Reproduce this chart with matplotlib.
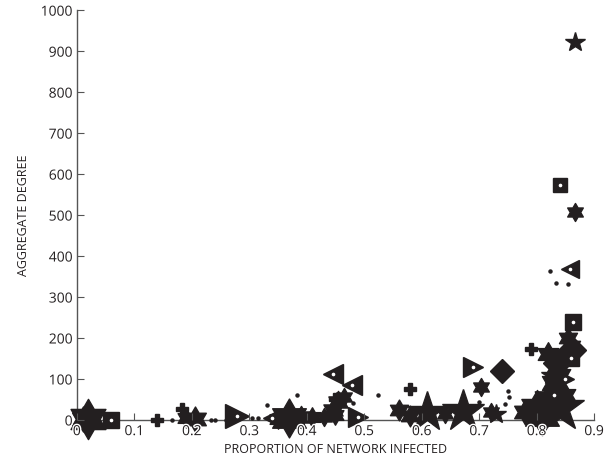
import numpy as np
import matplotlib.pyplot as plt
import matplotlib.patheffects as pe
from matplotlib.path import Path

plt.rcParams['font.family'] = ['Open Sans', 'DejaVu Sans']

# hexagram markers: x, y, size(pt)
hex_x = [0.02, 0.01, 0.205, 0.19, 0.37, 0.39, 0.41, 0.43, 0.35, 0.445, 0.455, 0.465, 0.45,
         0.56, 0.58, 0.64, 0.703, 0.72, 0.80, 0.81, 0.82, 0.83, 0.82, 0.835, 0.85, 0.855,
         0.86, 0.84, 0.85, 0.78, 0.867]
hex_y = [2, 3, 3, 5, 5, 8, 6, 8, 3, 25, 45, 55, 12,
         25, 10, 15, 80, 20, 30, 10, 50, 90, 160, 130, 150, 200,
         180, 110, 60, 20, 507]
hex_s = [29, 18, 18, 14, 28, 16, 14, 13, 14, 16, 16, 13, 14,
         15, 15, 13, 13, 13, 26, 28, 22, 20, 17, 18, 17, 15,
         15, 17, 17, 18, 13]

# pentagrams
pent_x = [0.61, 0.672, 0.84, 0.73, 0.867, 0.825]
pent_y = [20, 22, 30, 15, 922, 110]
pent_s = [30, 32, 36, 15, 15, 15]

# filled plus
plus_x = [0.14, 0.183, 0.58, 0.79, 0.45]
plus_y = [1, 27, 75, 172, 50]
plus_s = [9, 9, 9, 9, 9]

# squares
sq_x = [0.06, 0.84, 0.863, 0.86, 0.83]
sq_y = [0, 573, 238, 150, 60]
sq_s = [11, 10, 11, 11, 11]

# right triangles
rt_x = [0.278, 0.49, 0.69, 0.85]
rt_y = [10, 7, 130, 100]
rt_s = [17, 15, 15, 13]

# left triangles
lt_x = [0.446, 0.479, 0.858, 0.34]
lt_y = [112, 85, 368, 5]
lt_s = [15, 15, 13, 13]

# diamonds
dm_x = [0.74, 0.862, 0.835]
dm_y = [120, 170, 140]
dm_s = [12, 14, 14]

# dots
dot_x = [0.165, 0.233, 0.24, 0.26, 0.305, 0.315, 0.33, 0.383, 0.48, 0.524,
         0.75, 0.752, 0.745, 0.823, 0.833, 0.855, 0.70]
dot_y = [0, 0, 0, 0, 5, 5, 37, 60, 41, 61, 70, 55, 40, 363, 334, 332, 45]

ink = '#231f20'

# six-pointed star, vertex up
ang = np.pi / 2 + np.arange(12) * np.pi / 6
rad = np.where(np.arange(12) % 2 == 0, 1.0, 1 / np.sqrt(3))
verts = np.column_stack([rad * np.cos(ang), rad * np.sin(ang)])
verts = np.vstack([verts, verts[0]])
hexagram = Path(verts, [Path.MOVETO] + [Path.LINETO] * 11 + [Path.CLOSEPOLY])

fig = plt.figure(figsize=(6.05, 4.62), dpi=100)
ax = fig.add_axes([0.127, 0.091, 0.855, 0.887])


def draw(xs, ys, ss, marker, center=False):
    for x, y, s in zip(xs, ys, ss):
        ax.plot(x, y, marker=marker, ms=s, color=ink, mec=ink, ls='none', clip_on=False, zorder=3)
        if center:
            ax.plot(x, y, marker='o', ms=1.6, color='white', mec='white', ls='none', clip_on=False, zorder=4)


draw(hex_x, hex_y, hex_s, hexagram)
draw(pent_x, pent_y, pent_s, '*')
draw(plus_x, plus_y, plus_s, 'P')
draw(sq_x, sq_y, sq_s, 's', center=True)
draw(rt_x, rt_y, rt_s, '>', center=True)
draw(lt_x, lt_y, lt_s, '<', center=True)
draw(dm_x, dm_y, dm_s, 'D')
ax.plot(dot_x, dot_y, marker='o', ms=2.2, color=ink, ls='none', clip_on=False, zorder=3)

ax.set_xlim(0, 0.9)
ax.set_ylim(0, 1000)
ax.set_xticks(np.arange(0, 0.91, 0.1))
ax.set_xticklabels(['0'] + ['%.1f' % v for v in np.arange(0.1, 0.91, 0.1)])
ax.set_yticks(np.arange(0, 1001, 100))

for side in ['top', 'right']:
    ax.spines[side].set_visible(False)
for side in ['left', 'bottom']:
    ax.spines[side].set_color('#555555')
    ax.spines[side].set_linewidth(1.0)
ax.tick_params(direction='in', length=5, color='#555555', labelsize=10, labelcolor=ink, pad=3)
ax.xaxis.set_zorder(5)
ax.yaxis.set_zorder(5)
for lab in ax.get_xticklabels() + ax.get_yticklabels():
    lab.set_path_effects([pe.withStroke(linewidth=2, foreground='white')])

ax.set_xlabel('PROPORTION OF NETWORK INFECTED', fontsize=9, color=ink, labelpad=3)
ax.set_ylabel('AGGREGATE DEGREE', fontsize=9, color=ink, labelpad=8)

fig.savefig('out.png', dpi=100)
